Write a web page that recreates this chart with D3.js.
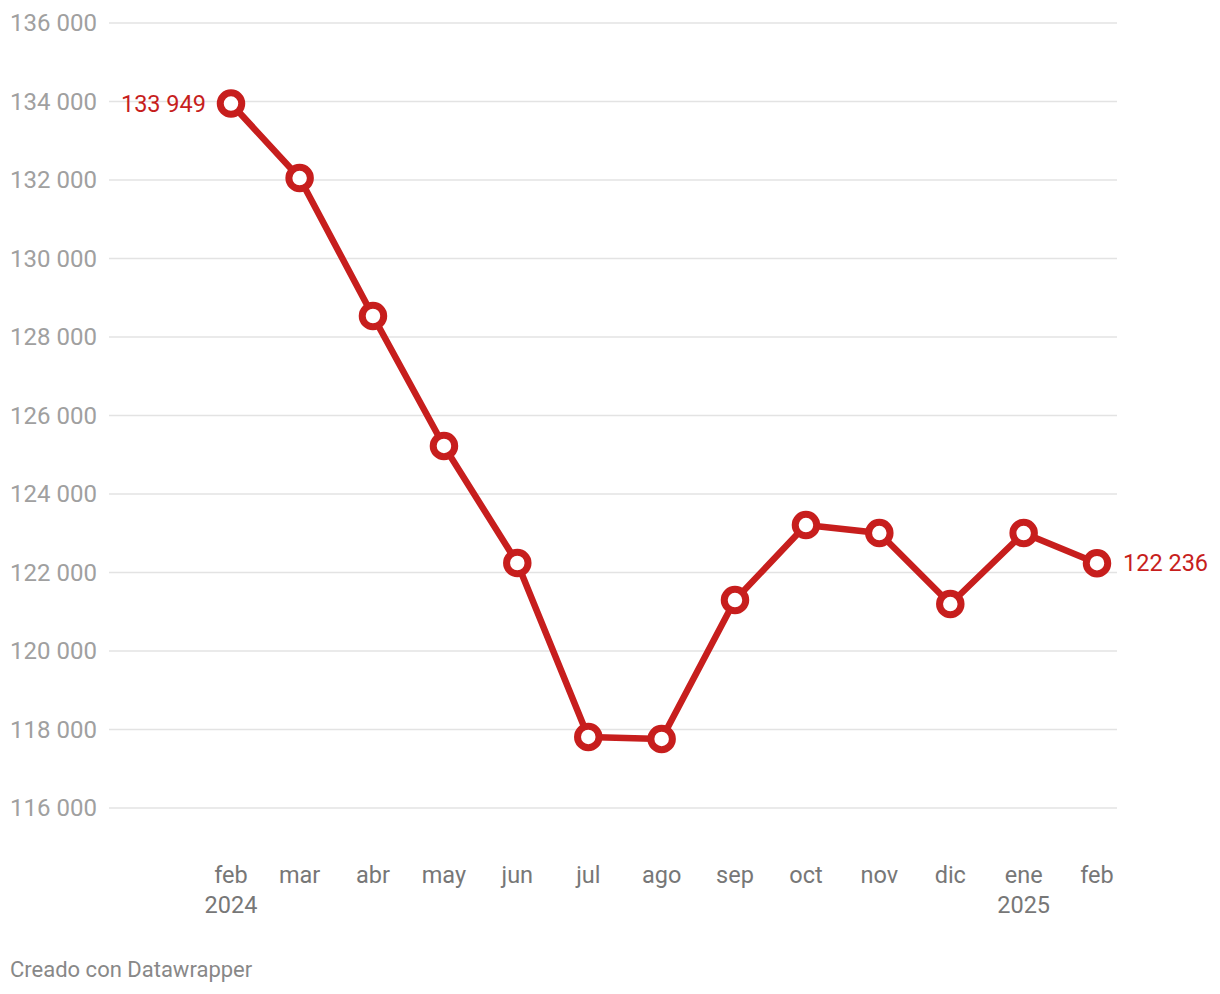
<!DOCTYPE html>
<html><head><meta charset="utf-8">
<script src="https://cdn.jsdelivr.net/npm/d3@7"></script>
<style>
body{margin:0;background:#fff;font-family:Roboto,sans-serif;}
</style></head>
<body><svg id="c" width="1220" height="994"></svg>
<script>
const months = ["2024-02","2024-03","2024-04","2024-05","2024-06","2024-07","2024-08","2024-09","2024-10","2024-11","2024-12","2025-01","2025-02"];
const monthLabels = ["feb","mar","abr","may","jun","jul","ago","sep","oct","nov","dic","ene","feb"];
const yearLabels = ["2024","","","","","","","","","","","2025",""];
const values = [133949,132050,128535,125223,122242,117809,117758,121299,123210,123006,121197,123006,122236];
const yTicks = [116000,118000,120000,122000,124000,126000,128000,130000,132000,134000,136000];

const parse = d3.timeParse("%Y-%m");
const dates = months.map(parse);
const svg = d3.select("#c");
const color = "#c71e1d";

const x = d3.scaleTime().domain([dates[0], dates[dates.length-1]]).range([231,1097]);
const y = d3.scaleLinear().domain([116000,136000]).range([808,23]);
const fmt = v => d3.format(",")(v).replace(/,/g," ");

// grid
const g = svg.append("g");
g.selectAll("line").data(yTicks).join("line")
  .attr("x1",109).attr("x2",1117)
  .attr("y1",d=>y(d)).attr("y2",d=>y(d))
  .attr("stroke","#e3e3e3").attr("stroke-width",1.5);
g.selectAll("text").data(yTicks).join("text")
  .attr("x",10).attr("y",d=>y(d)).attr("dy","0.35em")
  .attr("fill","#a0a0a0").attr("font-size",24).text(fmt);

// x labels
const xg = svg.append("g");
xg.selectAll("text.m").data(dates).join("text").attr("class","m")
  .attr("x",d=>x(d)).attr("y",883).attr("text-anchor","middle")
  .attr("fill","#777").attr("font-size",23.5).text((d,i)=>monthLabels[i]);
xg.selectAll("text.yr").data(dates).join("text").attr("class","yr")
  .attr("x",d=>x(d)).attr("y",913).attr("text-anchor","middle")
  .attr("fill","#777").attr("font-size",23.5).text((d,i)=>yearLabels[i]);

// line
const data = dates.map((d,i)=>({d, v: values[i]}));
svg.append("path").datum(data)
  .attr("fill","none").attr("stroke",color).attr("stroke-width",6.5)
  .attr("stroke-linejoin","round")
  .attr("d", d3.line().x(p=>x(p.d)).y(p=>y(p.v)));
svg.selectAll("circle").data(data).join("circle")
  .attr("cx",p=>x(p.d)).attr("cy",p=>y(p.v)).attr("r",10.75)
  .attr("fill","#fff").attr("stroke",color).attr("stroke-width",7);

// value labels
const first = data[0], last = data[data.length-1];
svg.append("text").attr("x",x(first.d)-25).attr("y",y(first.v)).attr("dy","0.35em")
  .attr("text-anchor","end").attr("fill",color).attr("font-size",23.5).text(fmt(first.v));
svg.append("text").attr("x",x(last.d)+26).attr("y",y(last.v)).attr("dy","0.35em")
  .attr("text-anchor","start").attr("fill",color).attr("font-size",23.5).text(fmt(last.v));

svg.append("text").attr("x",10).attr("y",977).attr("fill","#888").attr("font-size",22)
  .text("Creado con Datawrapper");
</script></body></html>
